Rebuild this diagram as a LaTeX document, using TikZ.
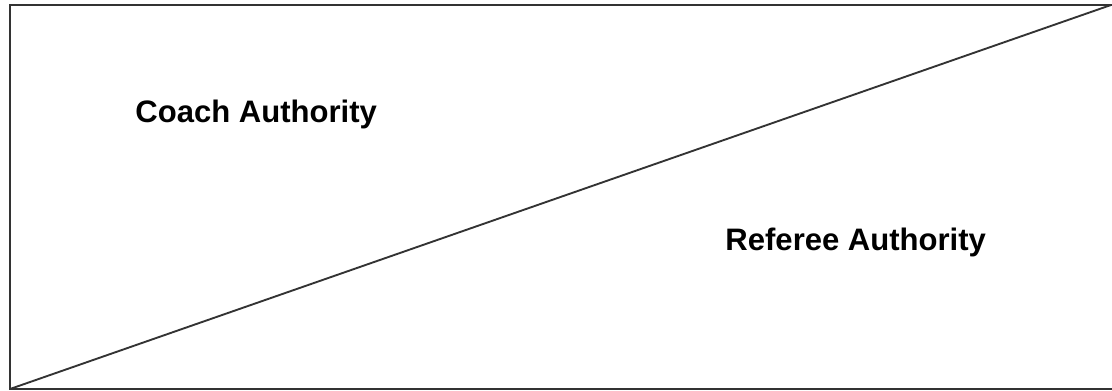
\documentclass[tikz,border=0pt]{standalone}
\usepackage{fontspec}
\setmainfont{Liberation Sans}
\begin{document}
\begin{tikzpicture}[x=0.03cm,y=-0.03cm,thick,
    frame line/.style={draw=black!80,line width=1.6pt},
    area label/.style={font=\bfseries\fontsize{26.5}{30}\selectfont,inner sep=0pt,anchor=base west}]
        \useasboundingbox (0,0) rectangle (1112,391);
        \coordinate (bl) at (10,389);
        \coordinate (tr) at (1111,5);
        \draw[frame line] (1116,5) -- (10,5) -- (10,389) -- (1116,389);
        \draw[frame line] (bl) -- (tr);
        \node[area label] (coach) at (135,122) {Coach Authority};
        \node[area label] (referee) at (725,250) {Referee Authority};
    \end{tikzpicture}
\end{document}
